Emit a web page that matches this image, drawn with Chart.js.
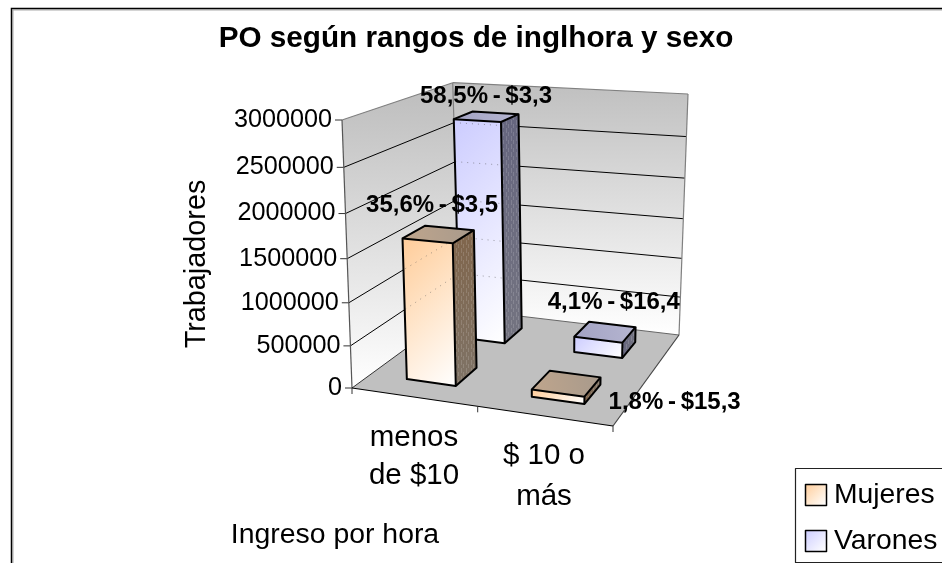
<!DOCTYPE html>
<html><head><meta charset="utf-8">
<style>html,body{margin:0;padding:0;background:#fff;overflow:hidden}#w{width:942px;height:563px}</style>
<script src="https://cdn.jsdelivr.net/npm/chart.js@4"></script></head>
<body><div id="w"><canvas id="c" width="942" height="563"></canvas></div>
<script>
const titleText = 'PO según rangos de inglhora y sexo';
const yAxisTitle = 'Trabajadores';
const xAxisTitle = 'Ingreso por hora';
const categories = [['menos','de $10'],['$ 10 o','más']];
const mujeres = [1655000, 86000];
const varones = [2730000, 195000];
const mujeresLabels = ['35,6% - $3,5','1,8% - $15,3'];
const varonesLabels = ['58,5% - $3,3','4,1% - $16,4'];
const yTicksMax = 3000000, yTickStep = 500000;

/* ---- layout (not data) ---- */
const FLOOR = [[352,388],[613,426],[679,335],[460,309]];
const TOP   = [[342,120],[620,138],[688,94],[452.7,82.7]];
const WARP = 0.0725; // vertical foreshortening of the 3D view
const F = "'Liberation Sans', Arial, sans-serif";
const labelNudge = [ [[-6.5,-29],[108,19]], [[-0.5,-20],[8.5,-30]] ]; // [dataset][category] offset from bar top
const catLabelPos = [[414,438,38],[544,456,41]];

function homography(q){
  const [p0,p1,p2,p3]=q;
  const sx=p0[0]-p1[0]+p2[0]-p3[0], sy=p0[1]-p1[1]+p2[1]-p3[1];
  const dx1=p1[0]-p2[0],dy1=p1[1]-p2[1],dx2=p3[0]-p2[0],dy2=p3[1]-p2[1];
  const det=dx1*dy2-dx2*dy1;
  const g=(sx*dy2-dx2*sy)/det,h=(dx1*sy-sx*dy1)/det;
  const a=p1[0]-p0[0]+g*p1[0],b=p3[0]-p0[0]+h*p3[0],c=p0[0];
  const d=p1[1]-p0[1]+g*p1[1],e=p3[1]-p0[1]+h*p3[1],f=p0[1];
  return (u,v)=>{const w=g*u+h*v+1;return [(a*u+b*v+c)/w,(d*u+e*v+f)/w];};
}
const floorH=homography(FLOOR), topH=homography(TOP);
const P=(u,v,t0)=>{const t=t0/(1+WARP*(1-t0));const a=floorH(u,v),b=topH(u,v);return [a[0]+(b[0]-a[0])*t,a[1]+(b[1]-a[1])*t];};

function poly(ctx,pts){ctx.beginPath();pts.forEach((p,i)=>i?ctx.lineTo(p[0],p[1]):ctx.moveTo(p[0],p[1]));ctx.closePath();}
function line(ctx,a,b,col,w){ctx.strokeStyle=col;ctx.lineWidth=w;ctx.beginPath();ctx.moveTo(a[0],a[1]);ctx.lineTo(b[0],b[1]);ctx.stroke();}
function grad(ctx,x0,y0,x1,y1,stops){const g=ctx.createLinearGradient(x0,y0,x1,y1);stops.forEach((s,i)=>g.addColorStop(i/(stops.length-1),s));return g;}
function diag(ctx,a,w,h,stops){const L=(w+h)/2;return grad(ctx,a[0],a[1],a[0]+L,a[1]+L,stops);}

const palette=[
  {front:['#ffcc99','#ffe6cc','#ffffff'],side:['#80664d','#7f7264'],top:['#bfa58c','#a89a8c']},
  {front:['#ccccff','#e6e6ff','#ffffff'],side:['#66667f','#737380'],top:['#a3a3c4','#b5b5d0']}
];
function dotPattern(ctx){
  const c=document.createElement('canvas');c.width=5;c.height=8;
  const x=c.getContext('2d');x.fillStyle='rgba(255,255,255,.14)';x.fillRect(1,0,1,5);x.fillRect(3,4,1,4);
  return ctx.createPattern(c,'repeat');
}

const scene={
  id:'scene',
  beforeDatasetsDraw(chart){
    const ctx=chart.ctx,y=chart.scales.y;
    ctx.save();
    // frame
    ctx.strokeStyle='#aaa';ctx.lineWidth=1;
    ctx.beginPath();ctx.moveTo(13,570);ctx.lineTo(13,10);ctx.lineTo(960,10);ctx.stroke();
    ctx.strokeStyle='#000';ctx.lineWidth=1.5;
    ctx.beginPath();ctx.moveTo(11.5,570);ctx.lineTo(11.5,8.5);ctx.lineTo(960,8.5);ctx.stroke();
    // walls
    const bl=P(0,1,0),br=P(1,1,0),tr=P(1,1,1),tl=P(0,1,1),fb=P(0,0,0),ft=P(0,0,1);
    ctx.fillStyle=grad(ctx,0,85,0,335,['#c0c0c0','#ffffff']);poly(ctx,[bl,br,tr,tl]);ctx.fill();
    ctx.fillStyle=grad(ctx,0,100,0,388,['#c0c0c0','#ffffff']);poly(ctx,[fb,bl,tl,ft]);ctx.fill();
    // floor
    ctx.fillStyle='#c0c0c0';poly(ctx,FLOOR);ctx.fill();
    // grid lines
    y.ticks.forEach(tk=>{
      const t=(y.bottom-y.getPixelForValue(tk.value))/(y.bottom-y.top);
      if(t>0&&t<1){line(ctx,P(0,0,t),P(0,1,t),'#000',1);line(ctx,P(0,1,t),P(1,1,t),'#000',1);}
      const a=P(0,0,t);line(ctx,a,[a[0]-7,a[1]],'#333',1);
    });
    // wall edges
    line(ctx,tl,tr,'#808080',1.2);line(ctx,tr,br,'#808080',1.2);line(ctx,ft,tl,'#808080',1.2);line(ctx,tl,bl,'#808080',1.2);
    line(ctx,ft,fb,'#555',1.2);
    line(ctx,bl,br,'#666',1);line(ctx,fb,bl,'#333',1);line(ctx,br,P(1,0,0),'#444',1.2);line(ctx,fb,P(1,0,0),'#000',1.2);
    // category ticks
    [0,.5,1].forEach(u=>{const a=P(u,0,0);line(ctx,a,[a[0],a[1]+6],'#333',1);});
    ctx.restore();
  },
  afterDatasetsDraw(chart){
    const ctx=chart.ctx,x=chart.scales.x,y=chart.scales.y;
    const W=x.right-x.left,H=y.bottom-y.top,n=chart.data.datasets.length;
    const pat=dotPattern(ctx);
    ctx.save();
    const tops=[];
    for(let ds=n-1;ds>=0;ds--){
      const meta=chart.getDatasetMeta(ds),pal=palette[ds];
      meta.data.forEach((el,i)=>{
        const hw=el.width/2;
        const u0=(el.x-hw-x.left)/W,u1=(el.x+hw-x.left)/W;
        const vc=(ds+.5)/n,vh=(hw/W);
        const v0=vc-vh,v1=vc+vh;
        const t=(y.bottom-el.y)/H;
        const A=P(u0,v0,0),B=P(u1,v0,0),C=P(u1,v1,0);
        const a=P(u0,v0,t),b=P(u1,v0,t),c=P(u1,v1,t),d=P(u0,v1,t);
        // side
        ctx.fillStyle=grad(ctx,b[0],b[1],C[0],C[1],pal.side);poly(ctx,[B,C,c,b]);ctx.fill();
        ctx.save();poly(ctx,[B,C,c,b]);ctx.clip();ctx.fillStyle=pat;ctx.fillRect(b[0]-2,c[1]-2,C[0]-b[0]+4,B[1]-c[1]+4);ctx.restore();
        // front
        ctx.fillStyle=diag(ctx,a,B[0]-a[0],B[1]-a[1],pal.front);poly(ctx,[A,B,b,a]);ctx.fill();
        // faint gridlines seen through the front face
        ctx.save();poly(ctx,[A,B,b,a]);ctx.clip();
        y.ticks.forEach(tk=>{
          const tt=(y.bottom-y.getPixelForValue(tk.value))/H;if(tt<=0)return;
          ctx.setLineDash([1,5]);
          line(ctx,P(0,0,tt),P(0,1,tt),'rgba(90,90,90,.55)',1);
          line(ctx,P(0,1,tt),P(1,1,tt),'rgba(90,90,90,.55)',1);
        });
        ctx.restore();
        // top
        ctx.fillStyle=grad(ctx,a[0],a[1],c[0],c[1],pal.top);poly(ctx,[a,b,c,d]);ctx.fill();
        // outlines
        ctx.strokeStyle='#000';ctx.lineWidth=2;ctx.lineJoin='round';
        poly(ctx,[A,B,C,c,d,a]);ctx.stroke();
        ctx.beginPath();ctx.moveTo(a[0],a[1]);ctx.lineTo(b[0],b[1]);ctx.lineTo(c[0],c[1]);ctx.moveTo(b[0],b[1]);ctx.lineTo(B[0],B[1]);ctx.stroke();
        const cen=P((u0+u1)/2,(v0+v1)/2,t);
        tops.push({ds,i,cen});
      });
    }
    // data labels
    const lbls=[mujeresLabels,varonesLabels];
    ctx.fillStyle='#000';ctx.font='bold 24px '+F;ctx.textAlign='center';ctx.textBaseline='middle';
    ctx.wordSpacing='-2px';
    tops.forEach(o=>{const nd=labelNudge[o.ds][o.i];
      ctx.fillText(lbls[o.ds][o.i],o.cen[0]+nd[0],o.cen[1]+nd[1]);});
    ctx.wordSpacing='0px';
    // y tick labels
    ctx.font='25.2px '+F;ctx.textAlign='right';
    y.ticks.forEach(tk=>{const t=(y.bottom-y.getPixelForValue(tk.value))/H;const a=P(0,0,t);
      ctx.fillText(tk.label,a[0]-10,a[1]);});
    // category labels
    ctx.font='29.5px '+F;ctx.textAlign='center';
    x.getLabels().forEach((lab,i)=>{const q=catLabelPos[i];
      lab.forEach((s,k)=>ctx.fillText(s,q[0],q[1]+k*q[2]));});
    // axis titles
    ctx.font='28.4px '+F;ctx.fillText(xAxisTitle,335,535);
    ctx.save();ctx.translate(197,264);ctx.rotate(-Math.PI/2);ctx.font='28.8px '+F;ctx.fillText(yAxisTitle,0,0);ctx.restore();
    // legend
    ctx.strokeStyle='#222';ctx.lineWidth=1.2;ctx.fillStyle='#fff';
    ctx.fillRect(795.5,468.5,170,94);ctx.strokeRect(795.5,468.5,170,94);
    ctx.textAlign='left';ctx.font='28.3px '+F;
    chart.data.datasets.forEach((d,k)=>{
      const yy=484+k*46;
      ctx.fillStyle=grad(ctx,805,yy,826,yy+21,palette[k].front);ctx.fillRect(805.5,yy+.5,21,21);
      ctx.strokeStyle='#000';ctx.lineWidth=1.5;ctx.strokeRect(805.5,yy+.5,21,21);
      ctx.fillStyle='#000';ctx.fillText(d.label,834,yy+11);
    });
    ctx.restore();
  }
};

new Chart(document.getElementById('c'),{
  type:'bar',
  data:{labels:categories,datasets:[
    {label:'Mujeres',data:mujeres,backgroundColor:'rgba(0,0,0,0)'},
    {label:'Varones',data:varones,backgroundColor:'rgba(0,0,0,0)'}
  ]},
  options:{
    responsive:false,animation:false,
    layout:{padding:{left:10}},
    datasets:{bar:{grouped:false,barPercentage:1,categoryPercentage:.4}},
    plugins:{
      legend:{display:false},tooltip:{enabled:false},
      title:{display:true,text:titleText,color:'#000',font:{family:F,size:29.7,weight:'bold'},padding:{top:21,bottom:10}}
    },
    scales:{
      x:{display:false,offset:true,grid:{display:false}},
      y:{display:false,min:0,max:yTicksMax,ticks:{stepSize:yTickStep,callback:v=>String(v)}}
    }
  },
  plugins:[scene]
});
</script></body></html>
